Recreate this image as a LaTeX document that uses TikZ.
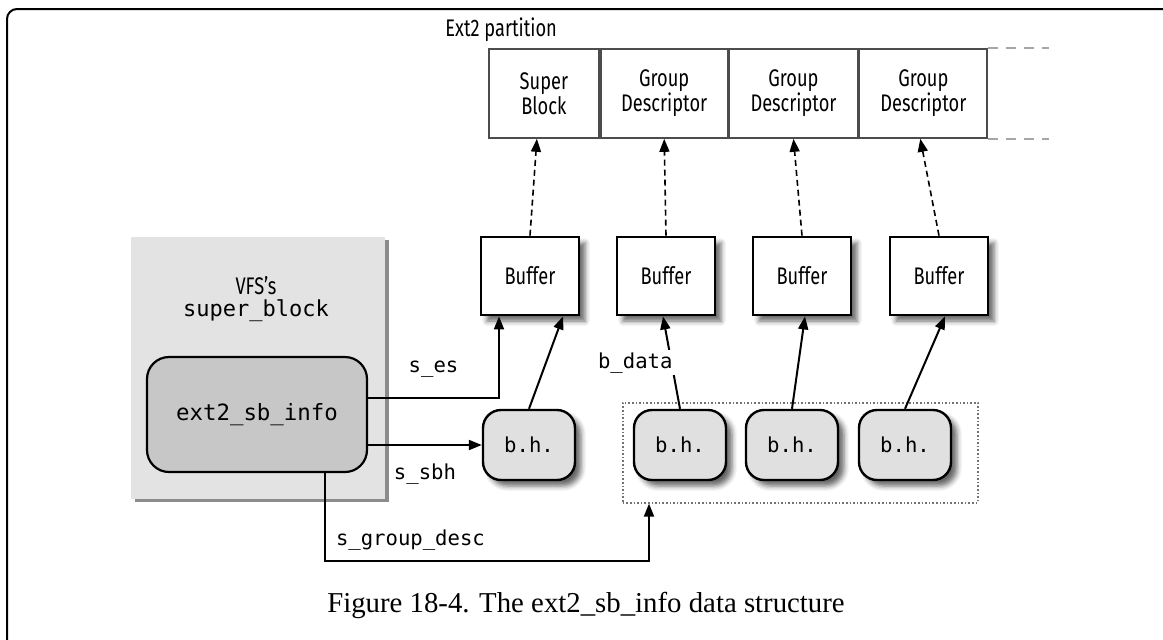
\documentclass[tikz,border=0pt]{standalone}
\usepackage{fontspec}
\setmainfont{Liberation Serif}
\newfontfamily\condsans[FakeStretch=0.76]{Fira Sans}
\newfontfamily\monofont{DejaVu Sans Mono}
\usetikzlibrary{positioning,arrows.meta,shadows,shadows.blur}

\tikzset{
  cell/.style={draw=black!70, line width=0.9pt, minimum height=44.5pt, inner sep=0pt,
    align=center, font=\condsans\fontsize{12}{12.5}\selectfont},
  buffer/.style={draw, line width=1.4pt, fill=white, minimum width=49pt, minimum height=39pt,
    inner sep=0pt, font=\condsans\fontsize{12}{12.5}\selectfont,
    blur shadow={shadow xshift=3pt, shadow yshift=-3pt, shadow blur radius=2.5pt, shadow opacity=60}},
  bhbox/.style={draw, line width=1.2pt, fill=black!12, rounded corners=9pt,
    minimum width=46pt, minimum height=35pt, inner sep=0pt,
    font=\monofont\fontsize{10.3}{12}\selectfont,
    blur shadow={shadow xshift=3pt, shadow yshift=-3pt, shadow blur radius=2.5pt, shadow opacity=60}},
  lbl/.style={font=\monofont\fontsize{10.3}{12}\selectfont, inner sep=1pt},
  link/.style={-{Triangle[length=6.5pt,width=5pt]}, line width=1pt},
  ptr/.style={link, densely dashed, line width=0.8pt}
}

\begin{document}
\begin{tikzpicture}[x=0.5pt,y=-0.5pt]
\useasboundingbox (0,0) rectangle (1163,639);
\draw[line width=1pt, rounded corners=5pt] (7,9) rectangle (1180,660);

% the partition on disk
\node[font=\condsans\fontsize{12}{14}\selectfont, anchor=west, inner sep=0pt] (ptitle) at (445,30) {Ext2 partition};
\node[cell, minimum width=55pt, anchor=north west] (sb) at (488,48) {Super\\Block};
\node[cell, minimum width=63.5pt, right=0pt of sb] (gd1) {Group\\Descriptor};
\node[cell, minimum width=64pt, right=0pt of gd1] (gd2) {Group\\Descriptor};
\node[cell, minimum width=64pt, right=0pt of gd2] (gd3) {Group\\Descriptor};
\draw[black!35, line width=0.8pt, dash pattern=on 5pt off 4pt] (gd3.north east) -- ++(61,0);
\draw[black!35, line width=0.8pt, dash pattern=on 5pt off 4pt] (gd3.south east) -- ++(61,0);

% buffers in memory
\node[buffer] (buf1) at (530,276) {Buffer};
\node[buffer] (buf2) at (666,276) {Buffer};
\node[buffer] (buf3) at (802,276) {Buffer};
\node[buffer] (buf4) at (939,276) {Buffer};
\draw[ptr] (buf1.north) -- ([xshift=-3.5pt]sb.south);
\draw[ptr] (buf2.north) -- (gd1.south);
\draw[ptr] (buf3.north) -- (gd2.south);
\draw[ptr] (buf4.north) -- ([xshift=-1.5pt]gd3.south);

% VFS super block
\node[fill=black!11, minimum width=127pt, minimum height=131pt, anchor=north west,
  drop shadow={shadow xshift=2pt, shadow yshift=-1.5pt, fill=black!45, opacity=1}] (vfs) at (131,237) {};
\node[align=center, inner sep=0pt] (vfstitle) at (256,299)
  {{\condsans\fontsize{12}{13}\selectfont VFS’s}\\[-1pt]{\monofont\fontsize{11}{13}\selectfont super\_block}};
\node[draw, line width=1.1pt, fill=black!22, rounded corners=11pt, minimum width=110pt,
  minimum height=57.5pt, font=\monofont\fontsize{11.2}{13}\selectfont] (ext2) at (257,414.5) {ext2\_sb\_info};

% buffer heads
\node[draw=black!55, densely dotted, line width=0.8pt, minimum width=177.5pt, minimum height=50pt,
  anchor=north west] (grp) at (622,402) {};
\node[bhbox] (bh1) at (529,445) {b.h.};
\node[bhbox] (bh2) at (680,445) {b.h.};
\node[bhbox] (bh3) at (792,445) {b.h.};
\node[bhbox] (bh4) at (905,445) {b.h.};

\draw[link] (bh1.north) -- ([xshift=16.5pt]buf1.south);
\draw[link] (bh2.north) -- node[lbl, pos=0.5, anchor=east, fill=white, xshift=2pt] {b\_data} ([xshift=-1.5pt]buf2.south);
\draw[link] (bh3.north) -- ([xshift=1.5pt]buf3.south);
\draw[link] (bh4.north) -- ([xshift=3pt]buf4.south);

% pointers from ext2_sb_info
\draw[link] ([yshift=8.25pt]ext2.east) -| node[lbl, pos=0.25, above=9pt] {s\_es} ([xshift=-15.5pt]buf1.south);
\draw[link] (ext2.east |- bh1.west) -- node[lbl, below=8pt] {s\_sbh} (bh1.west);
\draw[link] ([xshift=34pt]ext2.south) -- ++(0,88) node[lbl, above right=4pt and 4pt] {s\_group\_desc}
  -| ([xshift=13.5pt]grp.south west);

\node[font=\fontsize{14.4}{16}\selectfont] (cap) at (586,605) {Figure 18-4. The ext2\_sb\_info data structure};
\end{tikzpicture}
\end{document}
